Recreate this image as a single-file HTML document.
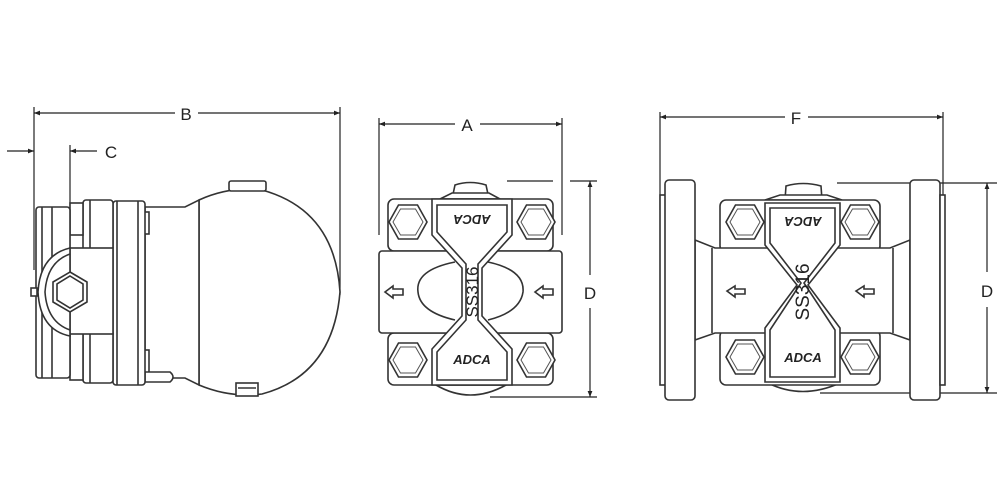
<!DOCTYPE html>
<html><head><meta charset="utf-8"><style>
html,body{margin:0;padding:0;background:#fff;width:1000px;height:500px;overflow:hidden}
svg{display:block}
text{font-family:"Liberation Sans",sans-serif;fill:#222}
</style></head><body>
<svg width="1000" height="500" viewBox="0 0 1000 500" xmlns="http://www.w3.org/2000/svg">
<defs>
<marker id="ar" viewBox="0 0 10 10" refX="10" refY="5" markerWidth="12" markerHeight="6" orient="auto-start-reverse" markerUnits="userSpaceOnUse"><path d="M0,1 L10,5 L0,9 Z" fill="#222"/></marker>
<g id="hex"><polygon points="-19,0 -9.5,-17 9.5,-17 19,0 9.5,17 -9.5,17" fill="#fff" stroke="#333" stroke-width="1.6"/><polygon points="-15,0 -7.5,-13 7.5,-13 15,0 7.5,13 -7.5,13" fill="none" stroke="#555" stroke-width="1"/></g>
</defs>
<g stroke="#222" stroke-width="1.2" fill="none">
<line x1="34" y1="107" x2="34" y2="270"/>
<line x1="340" y1="107" x2="340" y2="295"/>
<line x1="34" y1="113" x2="175" y2="113" marker-start="url(#ar)"/>
<line x1="198" y1="113" x2="340" y2="113" marker-end="url(#ar)"/>
<line x1="7" y1="151" x2="34" y2="151" marker-end="url(#ar)"/>
<line x1="70" y1="145" x2="70" y2="265"/>
<line x1="70" y1="151" x2="97" y2="151" marker-start="url(#ar)"/>
</g>
<text x="186" y="120" font-size="17" text-anchor="middle">B</text>
<text x="111" y="158" font-size="17" text-anchor="middle">C</text>
<g stroke="#333" stroke-width="1.6" fill="#fff">
<path d="M199,200 Q230,186 262,190 Q335,210 340,292 Q333,375 262,394 Q230,398 199,385 Z"/>
<rect x="229" y="181" width="37" height="10" rx="2"/>
<rect x="236" y="383" width="22" height="13"/>
<line x1="238" y1="388" x2="256" y2="388"/>
<path d="M145,207 L185,207 L199,200 L199,385 L185,378 L145,378 Z"/>
<rect x="143" y="212" width="6" height="22"/>
<rect x="143" y="350" width="6" height="30"/>
<path d="M145,372 L170,372 Q176,377 170,382 L145,382 Z"/>
<rect x="113" y="201" width="32" height="184" rx="3"/>
<line x1="117" y1="201" x2="117" y2="385"/>
<line x1="138" y1="201" x2="138" y2="385"/>
<rect x="83" y="200" width="30" height="50" rx="3"/>
<rect x="83" y="330" width="30" height="53" rx="3"/>
<line x1="90" y1="200" x2="90" y2="250"/><line x1="90" y1="330" x2="90" y2="383"/>
<rect x="70" y="203" width="13" height="32"/>
<rect x="70" y="333" width="13" height="47"/>
<rect x="36" y="207" width="34" height="171" rx="3"/>
<line x1="42" y1="207" x2="42" y2="378"/><line x1="52" y1="207" x2="52" y2="378"/>
<rect x="70" y="248" width="43" height="86"/>
<path d="M70,248 Q40,255 38,292 Q40,330 70,336 Z"/>
<path d="M70,254 Q47,262 45,292 Q47,322 70,330" fill="none"/>
<rect x="31" y="288" width="6" height="8"/>
<polygon points="70,272 87,282 87,302 70,312 53,302 53,282"/>
<polygon points="70,276 83,284 83,300 70,308 57,300 57,284" fill="none"/>
</g>
<g stroke="#222" stroke-width="1.2" fill="none">
<line x1="379" y1="118" x2="379" y2="235"/>
<line x1="562" y1="118" x2="562" y2="235"/>
<line x1="379" y1="124" x2="455" y2="124" marker-start="url(#ar)"/>
<line x1="480" y1="124" x2="562" y2="124" marker-end="url(#ar)"/>
<line x1="507" y1="181" x2="553" y2="181"/><line x1="570" y1="181" x2="597" y2="181"/>
<line x1="490" y1="397" x2="597" y2="397"/>
<line x1="590" y1="181" x2="590" y2="275" marker-start="url(#ar)"/>
<line x1="590" y1="308" x2="590" y2="397" marker-end="url(#ar)"/>
</g>
<text x="467" y="131" font-size="17" text-anchor="middle">A</text>
<text x="590" y="299" font-size="17" text-anchor="middle">D</text>
<g stroke="#333" stroke-width="1.6" fill="#fff">
<path d="M436,385 Q470,405 506,385 Z"/>
<path d="M452,199 L455,185 Q470,180 486,185 L489,199 Z"/>
<path d="M440,199 L452,193 L489,193 L500,199 Z"/>
<rect x="388" y="199" width="165" height="52" rx="6"/>
<rect x="388" y="333" width="165" height="52" rx="6"/>
<rect x="379" y="251" width="183" height="82" rx="3"/>
<path d="M432,199 L432,235 L462,268 L462,316 L432,349 L432,385 L512,385 L512,349 L482,316 L482,268 L512,235 L512,199 Z"/>
<path d="M437,205 L437,232 L466,264 L466,320 L437,352 L437,380 L507,380 L507,352 L478,320 L478,264 L507,232 L507,205 Z" fill="none"/>
<path d="M455,262 Q415,270 418,292 Q420,312 455,320" fill="none"/>
<path d="M488,262 Q525,270 523,292 Q520,312 488,320" fill="none"/>
<path d="M385,292 L393,286 L393,289 L403,289 L403,295 L393,295 L393,298 Z"/>
<path d="M535,292 L543,286 L543,289 L553,289 L553,295 L543,295 L543,298 Z"/>
</g>
<use href="#hex" x="408" y="222"/><use href="#hex" x="536" y="222"/>
<use href="#hex" x="408" y="360"/><use href="#hex" x="536" y="360"/>
<text x="472" y="225" font-size="13" font-weight="bold" font-style="italic" text-anchor="middle" transform="rotate(180 472 220)">ADCA</text>
<text x="472" y="364" font-size="13" font-weight="bold" font-style="italic" text-anchor="middle">ADCA</text>
<text x="472" y="298" font-size="17" text-anchor="middle" transform="rotate(-90 472 292)">SS316</text>
<g stroke="#222" stroke-width="1.2" fill="none">
<line x1="660" y1="112" x2="660" y2="210"/>
<line x1="943" y1="112" x2="943" y2="208"/>
<line x1="660" y1="117" x2="785" y2="117" marker-start="url(#ar)"/>
<line x1="808" y1="117" x2="943" y2="117" marker-end="url(#ar)"/>
<line x1="837" y1="183" x2="997" y2="183"/>
<line x1="820" y1="393" x2="997" y2="393"/>
<line x1="987" y1="183" x2="987" y2="272" marker-start="url(#ar)"/>
<line x1="987" y1="307" x2="987" y2="393" marker-end="url(#ar)"/>
</g>
<text x="796" y="124" font-size="17" text-anchor="middle">F</text>
<text x="987" y="297" font-size="17" text-anchor="middle">D</text>
<g stroke="#333" stroke-width="1.6" fill="#fff">
<path d="M768,383 Q802,400 840,383 Z"/>
<path d="M785,200 L786,186 Q803,181 821,186 L822,200 Z"/>
<path d="M765,200 L780,195 L827,195 L842,200 Z"/>
<rect x="720" y="200" width="160" height="52" rx="6"/>
<rect x="720" y="330" width="160" height="55" rx="6"/>
<path d="M695,240 L715,248 L890,248 L910,240 L910,340 L890,333 L715,333 L695,340 Z"/>
<line x1="712" y1="248" x2="712" y2="333"/><line x1="893" y1="248" x2="893" y2="333"/>
<path d="M765,203 L765,245 L797,285 L765,328 L765,382 L840,382 L840,328 L808,285 L840,245 L840,203 Z"/>
<path d="M770,208 L770,243 L801,283 L770,330 L770,377 L835,377 L835,330 L804,283 L835,243 L835,208 Z" fill="none"/>
<rect x="660" y="195" width="6" height="190"/>
<rect x="665" y="180" width="30" height="220" rx="4"/>
<rect x="910" y="180" width="30" height="220" rx="4"/>
<rect x="940" y="195" width="5" height="190"/>
<path d="M727,291 L735,286 L735,289 L745,289 L745,294 L735,294 L735,297 Z"/>
<path d="M856,291 L864,286 L864,289 L874,289 L874,294 L864,294 L864,297 Z"/>
</g>
<use href="#hex" x="745" y="222"/><use href="#hex" x="860" y="222"/>
<use href="#hex" x="745" y="357"/><use href="#hex" x="860" y="357"/>
<text x="803" y="227" font-size="13" font-weight="bold" font-style="italic" text-anchor="middle" transform="rotate(180 803 222)">ADCA</text>
<text x="803" y="362" font-size="13" font-weight="bold" font-style="italic" text-anchor="middle">ADCA</text>
<text x="803" y="298" font-size="19" text-anchor="middle" transform="rotate(-90 803 292)">SS316</text>
</svg>
</body></html>
